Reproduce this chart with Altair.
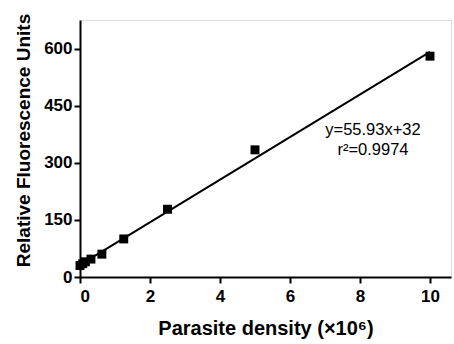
import altair as alt
import pandas as pd

density = [0, 0.078, 0.156, 0.3125, 0.625, 1.25, 2.5, 5, 10]
rfu = [30, 35, 40, 47, 60, 100, 178, 334, 580]
fit_x = [0, 10]
slope = 55.93
intercept = 32
eq_lines = ["y=55.93x+32", "r²=0.9974"]
eq_x = [8.37, 8.37]
eq_y = [373, 320]

pts = pd.DataFrame({"x": density, "y": rfu})
fit = pd.DataFrame({"x": fit_x, "y": [slope * v + intercept for v in fit_x]})
ann = pd.DataFrame({"x": eq_x, "y": eq_y, "t": eq_lines})

FONT = "Liberation Sans"
xs = alt.Scale(domain=[0, 10.6], nice=False, zero=False)
ys = alt.Scale(domain=[0, 675], nice=False, zero=False)

xax = alt.Axis(values=[0, 2, 4, 6, 8, 10], title="Parasite density (×10⁶)",
               labelFont=FONT, labelFontWeight="bold", labelFontSize=17,
               titleFont=FONT, titleFontWeight="bold", titleFontSize=20,
               domainColor="black", domainWidth=2, tickColor="black", tickWidth=2,
               tickSize=6, labelPadding=5, titlePadding=14, grid=False,
               labelColor="black", titleColor="black")
yax = alt.Axis(values=[0, 150, 300, 450, 600], title="Relative Fluorescence Units",
               labelFont=FONT, labelFontWeight="bold", labelFontSize=17,
               titleFont=FONT, titleFontWeight="bold", titleFontSize=19,
               domainColor="black", domainWidth=2, tickColor="black", tickWidth=2,
               tickSize=6, labelPadding=2, titlePadding=10, titleY=120, grid=False,
               labelColor="black", titleColor="black")

line = alt.Chart(fit).mark_line(color="black", strokeWidth=2).encode(
    x=alt.X("x:Q", scale=xs, axis=xax), y=alt.Y("y:Q", scale=ys, axis=yax))
points = alt.Chart(pts).mark_square(color="black", opacity=1, size=80).encode(
    x=alt.X("x:Q", scale=xs), y=alt.Y("y:Q", scale=ys))
text = alt.Chart(ann).mark_text(font=FONT, fontSize=16.5, color="black",
                                baseline="alphabetic").encode(
    x=alt.X("x:Q", scale=xs), y=alt.Y("y:Q", scale=ys), text="t:N")

chart = alt.layer(line, points, text).properties(
    width=371, height=257,
    autosize=alt.AutoSizeParams(type="none"),
    padding={"left": 80, "top": 20, "right": 3, "bottom": 67},
).configure_view(stroke=None).configure(background="white")

chart.save("out.html", embed_options={"renderer": "svg", "actions": False})
